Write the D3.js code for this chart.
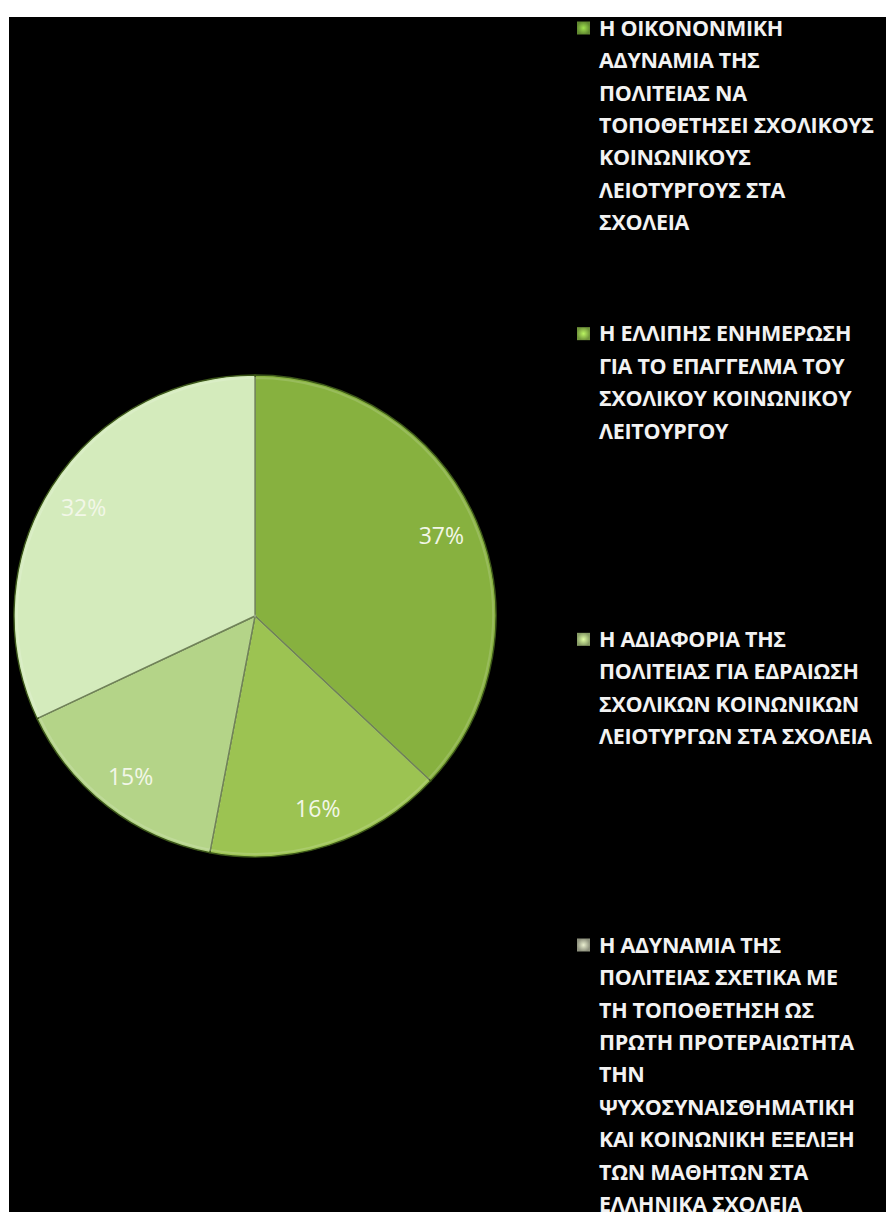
<!DOCTYPE html>
<html>
<head>
<meta charset="utf-8">
<script src="https://cdn.jsdelivr.net/npm/d3@7"></script>
<style>
  html, body { margin: 0; padding: 0; background: #ffffff; }
  svg { display: block; }
</style>
</head>
<body>
<svg id="chart" width="886" height="1212"></svg>
<script>
// Shares of each reason (percent), in drawing order clockwise from 12 o'clock
const values = [37, 16, 15, 32];

// Legend entries, already broken into the lines they are shown on
const categories = [
  ["Η ΟΙΚΟΝΟΝΜΙΚΗ", "ΑΔΥΝΑΜΙΑ ΤΗΣ", "ΠΟΛΙΤΕΙΑΣ ΝΑ", "ΤΟΠΟΘΕΤΗΣΕΙ ΣΧΟΛΙΚΟΥΣ", "ΚΟΙΝΩΝΙΚΟΥΣ", "ΛΕΙΟΤΥΡΓΟΥΣ ΣΤΑ", "ΣΧΟΛΕΙΑ"],
  ["Η ΕΛΛΙΠΗΣ ΕΝΗΜΕΡΩΣΗ", "ΓΙΑ ΤΟ ΕΠΑΓΓΕΛΜΑ ΤΟΥ", "ΣΧΟΛΙΚΟΥ ΚΟΙΝΩΝΙΚΟΥ", "ΛΕΙΤΟΥΡΓΟΥ"],
  ["Η ΑΔΙΑΦΟΡΙΑ ΤΗΣ", "ΠΟΛΙΤΕΙΑΣ ΓΙΑ ΕΔΡΑΙΩΣΗ", "ΣΧΟΛΙΚΩΝ ΚΟΙΝΩΝΙΚΩΝ", "ΛΕΙΟΤΥΡΓΩΝ ΣΤΑ ΣΧΟΛΕΙΑ"],
  ["Η ΑΔΥΝΑΜΙΑ ΤΗΣ", "ΠΟΛΙΤΕΙΑΣ ΣΧΕΤΙΚΑ ΜΕ", "ΤΗ ΤΟΠΟΘΕΤΗΣΗ ΩΣ", "ΠΡΩΤΗ ΠΡΟΤΕΡΑΙΩΤΗΤΑ", "ΤΗΝ", "ΨΥΧΟΣΥΝΑΙΣΘΗΜΑΤΙΚΗ", "ΚΑΙ ΚΟΙΝΩΝΙΚΗ ΕΞΕΛΙΞΗ", "ΤΩΝ ΜΑΘΗΤΩΝ ΣΤΑ", "ΕΛΛΗΝΙΚΑ ΣΧΟΛΕΙΑ"]
];

// Slice shading: lighter at the top, darker toward the bottom
const topColors    = ["#87b13f", "#9cc352", "#b4d488", "#d4ebbc"];
const bottomColors = ["#5d8029", "#86ab3f", "#a2c372", "#a3b180"];
const legendColors = ["#86bd42", "#9ccd52", "#bcd88c", "#c4c8ae"];

const svg = d3.select("#chart");
const W = 886, H = 1212;
const frame = { x: 9, y: 17 };

// dark panel
svg.append("rect")
  .attr("x", frame.x).attr("y", frame.y)
  .attr("width", W - frame.x).attr("height", H - frame.y)
  .attr("fill", "#000000");

const defs = svg.append("defs");
defs.append("clipPath").attr("id", "panelClip")
  .append("rect")
  .attr("x", frame.x).attr("y", frame.y)
  .attr("width", W - frame.x).attr("height", H - frame.y);

// ---- pie ----
const cx = 255, cy = 616, R = 241;

values.forEach((v, i) => {
  const g = defs.append("linearGradient")
    .attr("id", "slice" + i)
    .attr("gradientUnits", "userSpaceOnUse")
    .attr("x1", 0).attr("y1", cy - R)
    .attr("x2", 0).attr("y2", cy + R);
  g.append("stop").attr("offset", "0%").attr("stop-color", topColors[i]);
  g.append("stop").attr("offset", "100%").attr("stop-color", bottomColors[i]);
});

const pie = d3.pie().sort(null).value(d => d).startAngle(0).endAngle(2 * Math.PI);
const arcs = pie(values);
const arc = d3.arc().innerRadius(0).outerRadius(R);
const labelArc = d3.arc().innerRadius(203).outerRadius(203);

const pieG = svg.append("g").attr("transform", `translate(${cx},${cy})`);

pieG.selectAll("path.slice")
  .data(arcs)
  .join("path")
  .attr("class", "slice")
  .attr("d", arc)
  .attr("fill", (d, i) => `url(#slice${i})`)
  .attr("stroke", "#3a5418")
  .attr("stroke-width", 1.4)
  .attr("stroke-linejoin", "round");

// soft bevel highlight along each slice edge
const bevelArc = d3.arc().innerRadius(0).outerRadius(R - 3);
pieG.selectAll("path.bevel")
  .data(arcs)
  .join("path")
  .attr("class", "bevel")
  .attr("d", bevelArc)
  .attr("fill", "none")
  .attr("stroke", "rgba(255,255,255,0.15)")
  .attr("stroke-width", 2);

pieG.selectAll("text.pct")
  .data(arcs)
  .join("text")
  .attr("class", "pct")
  .attr("transform", d => `translate(${labelArc.centroid(d)})`)
  .attr("text-anchor", "middle")
  .attr("dy", "0.36em")
  .attr("font-family", "'Open Sans', 'Noto Sans', sans-serif")
  .attr("font-size", 23)
  .attr("fill", "#f2f7e8")
  .text(d => d.data + "%");

// ---- legend ----
const legendY = d3.scalePoint().domain(d3.range(categories.length)).range([28, 945]);
const lineStep = 32.4;
const legendX = 577, textX = 599, box = 13;

categories.forEach((lines, i) => {
  const rg = defs.append("radialGradient").attr("id", "key" + i);
  rg.append("stop").attr("offset", "0%").attr("stop-color", d3.color(legendColors[i]).brighter(0.5));
  rg.append("stop").attr("offset", "100%").attr("stop-color", d3.color(legendColors[i]).darker(0.9));
});

const legend = svg.append("g").attr("clip-path", "url(#panelClip)");
const items = legend.selectAll("g.item")
  .data(categories)
  .join("g")
  .attr("class", "item")
  .attr("transform", (d, i) => `translate(0,${legendY(i)})`);

items.append("rect")
  .attr("x", legendX).attr("y", -box / 2)
  .attr("width", box).attr("height", box)
  .attr("fill", (d, i) => `url(#key${i})`);

items.selectAll("text")
  .data(d => d)
  .join("text")
  .attr("x", textX)
  .attr("y", (d, j) => j * lineStep)
  .attr("dy", "0.36em")
  .attr("font-family", "'Open Sans', 'Noto Sans', sans-serif")
  .attr("font-weight", 700)
  .attr("font-size", 21.5)
  .attr("letter-spacing", -0.3)
  .attr("fill", "#f2f2f2")
  .text(d => d);
</script>
</body>
</html>
